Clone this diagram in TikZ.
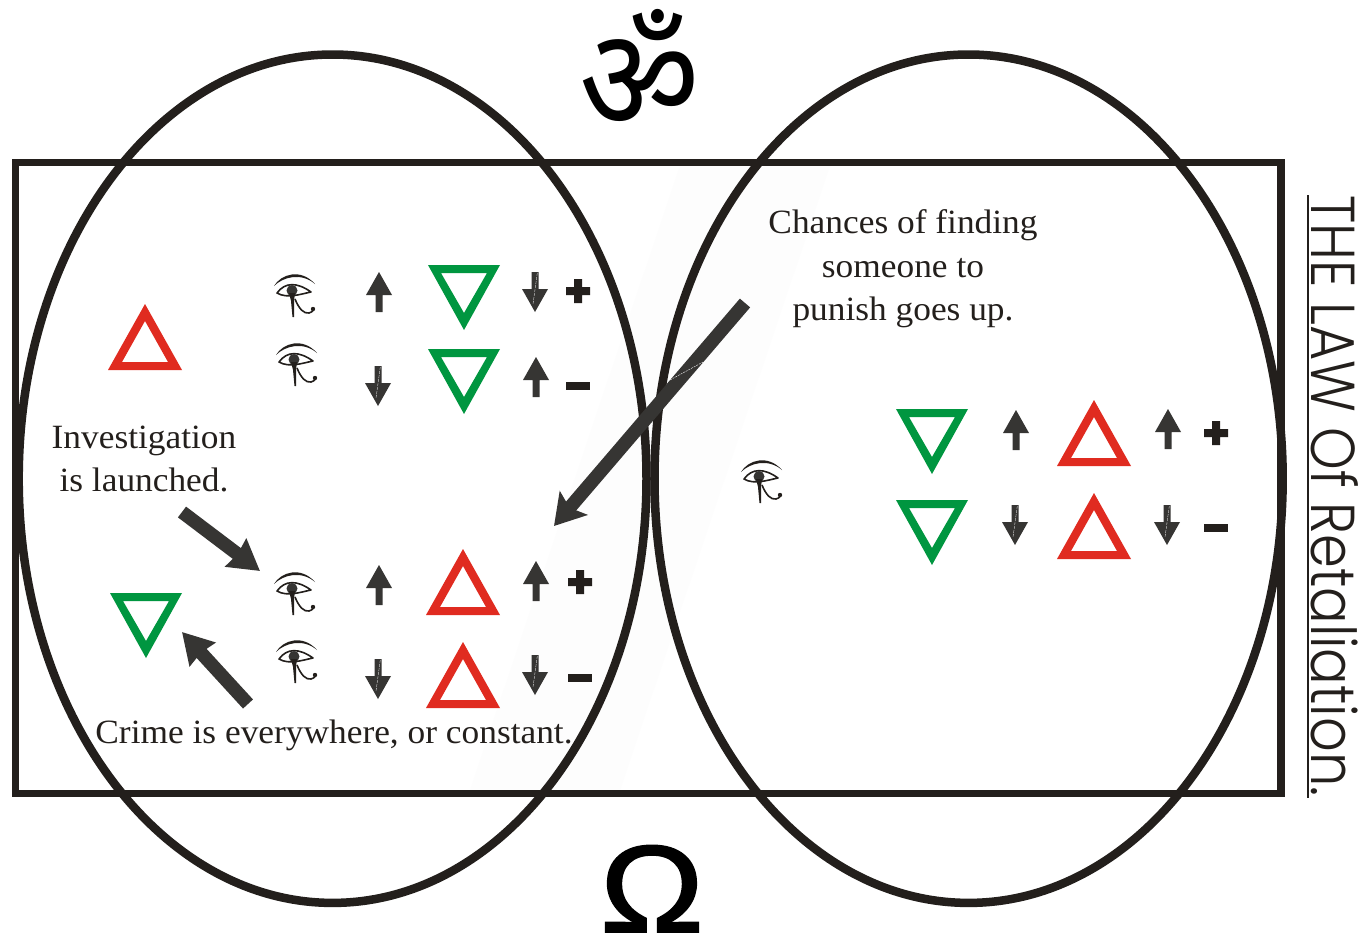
\documentclass[tikz,border=0pt]{standalone}
\usepackage{graphicx}
\usepackage{fontspec}
\setmainfont[FakeStretch=1.04]{Liberation Serif}
\newfontfamily\omfont[Script=Devanagari]{Noto Sans}
\newfontfamily\sidefont[FakeStretch=0.875]{Poppins Light}
\newfontfamily\omegafont[FakeBold=1.5]{Liberation Sans}
\usetikzlibrary{arrows.meta}
\definecolor{inkc}{HTML}{231F1C}
\definecolor{arrc}{HTML}{363533}
\definecolor{grn}{HTML}{009640}
\definecolor{rdd}{HTML}{E02B20}
\definecolor{faint}{HTML}{FDFDFD}
\tikzset{
 x=1pt,y=-1pt,
 heavy/.style={draw=inkc,line width=7.5pt},
 ring/.style={draw=inkc,line width=8.5pt},
 bigarrow/.style={draw=arrc,line width=13.5pt,-{Stealth[length=30pt,width=34pt,inset=2pt]}},
 longarrow/.style={draw=arrc,line width=13.5pt,-{Stealth[length=30pt,width=36pt,inset=6pt]}},
 lbl/.style={text=inkc,font=\fontsize{34}{43.5}\selectfont,align=center,inner sep=0pt},
 greentri/.pic={\fill[grn,even odd rule] (-36,0)--(36,0)--(0,65)--cycle (-23,8)--(23,8)--(0,48)--cycle;},
 redtri/.pic={\fill[rdd,even odd rule] (-37,0)--(37,0)--(0,-66)--cycle (-23,-8)--(23,-8)--(0,-49)--cycle;},
 uparr/.pic={\fill[arrc] (0,0)--(13,23)--(3.5,23)--(3.5,40)--(-3.5,40)--(-3.5,23)--(-13,23)--cycle;},
 downarr/.pic={\fill[arrc] (0,0)--(13,-23)--(3.5,-23)--(3.5,-40)--(-3.5,-40)--(-3.5,-23)--(-13,-23)--cycle;
   \draw[white,line width=.3pt,dash pattern=on 3pt off 1pt] (2.3,-39)--(-2,-8);},
 plusmark/.pic={\fill[inkc] (-12,-4)--(-4,-4)--(-4,-12)--(4,-12)--(4,-4)--(12,-4)--(12,4)--(4,4)--(4,12)--(-4,12)--(-4,4)--(-12,4)--cycle;},
 minusmark/.pic={\fill[inkc] (-12,-4) rectangle (12,4);},
 eyeglyph/.pic={
   \fill[inkc] (-21,-9) .. controls (-14,-21) and (6,-27) .. (20,-11) .. controls (6,-23) and (-12,-18) .. (-21,-9)--cycle;
   \draw[inkc,line width=1.6pt,line join=round] (-18,-2) .. controls (-10,-13) and (2,-13) .. (16,-3) .. controls (6,-1) and (-8,4) .. (-18,-2)--cycle;
   \fill[arrc] (-3,-4.5) circle (5.5);
   \fill[inkc] (-6,-2)--(0,-2)--(-1,6)--(-1,22)--(-2.5,22)--(-4,6)--cycle;
   \draw[inkc,line width=1.6pt] (0,4) .. controls (4,14) and (9,19) .. (14,18) .. controls (18,17) and (19,14) .. (18,14);
   \fill[inkc] (18,14) circle (2.2);
 },
}
\begin{document}
\begin{tikzpicture}
\useasboundingbox (0,0) rectangle (1366,938);
\fill[white] (0,0) rectangle (1366,938);
\fill[faint] (680,166)--(830,166)--(620,790)--(470,790)--cycle;
\draw[heavy] (15.5,162.5) rectangle (1281,793.5);
\draw[ring] (332.6,478.7) ellipse [x radius=313.9,y radius=424.2];
\draw[ring] (968.6,478.7) ellipse [x radius=314.1,y radius=424.2];

\node[inner sep=0pt,text=black] (om) at (640,69.5) {\scalebox{1}[1.09]{\fontsize{132}{132}\omfont ॐ}};
\node[inner sep=0pt,text=black,anchor=base] (omega) at (652,932) {\scalebox{1.12}[1]{\fontsize{124}{124}\omegafont Ω}};

\node[lbl] (chance) at (903,269) {Chances of finding\\someone to\\punish goes up.};
\node[lbl] (invest) at (144,459) {Investigation\\is launched.};
\node[lbl,anchor=base] (crime) at (334,743) {Crime is everywhere, or constant.};

\node[inner sep=0pt,text=inkc,rotate=-90,anchor=base west,font=\fontsize{62}{62}\sidefont] (side) at (1311,195) {THE LAW Of Retaliation.};
\coordinate (sideA) at (1307.5,195);
\coordinate (sideB) at (1307.5,798);
\draw[inkc,line width=2pt] (sideA)--(sideB);

\pic at (145,370) {redtri};
\pic at (146,593) {greentri};

\pic at (295,295) {eyeglyph};
\pic at (297,364) {eyeglyph};
\pic at (295,593) {eyeglyph};
\pic at (297,661) {eyeglyph};
\pic at (762,481) {eyeglyph};

\pic at (379,272) {uparr};
\pic at (378,406) {downarr};
\pic at (379,565) {uparr};
\pic at (378,699) {downarr};

\pic at (464,265) {greentri};
\pic at (464,349) {greentri};
\pic at (463,615) {redtri};
\pic at (463,708) {redtri};

\pic at (535,312) {downarr};
\pic at (536,357) {uparr};
\pic at (536,561) {uparr};
\pic at (535,695) {downarr};

\pic at (578,291) {plusmark};
\pic at (578,386) {minusmark};
\pic at (580,582) {plusmark};
\pic at (580,678) {minusmark};

\pic at (932,409) {greentri};
\pic at (932,500) {greentri};
\pic at (1094,466) {redtri};
\pic at (1094,559) {redtri};
\pic at (1016,410) {uparr};
\pic at (1015,545) {downarr};
\pic at (1168,409) {uparr};
\pic at (1167,545) {downarr};
\pic at (1216,433) {plusmark};
\pic at (1216,528) {minusmark};

\coordinate (chanceTail) at (745,303);
\coordinate (chanceTip) at (554,526);
\coordinate (investTail) at (182,512);
\coordinate (investTip) at (260,571);
\coordinate (crimeTail) at (248,704);
\coordinate (crimeTip) at (182,632);
\draw[longarrow] (chanceTail)--(chanceTip);
\draw[white,line width=.4pt,dash pattern=on 2pt off 1pt] (670,380)--(703,362);
\draw[bigarrow] (investTail)--(investTip);
\draw[bigarrow] (crimeTail)--(crimeTip);
\end{tikzpicture}
\end{document}
